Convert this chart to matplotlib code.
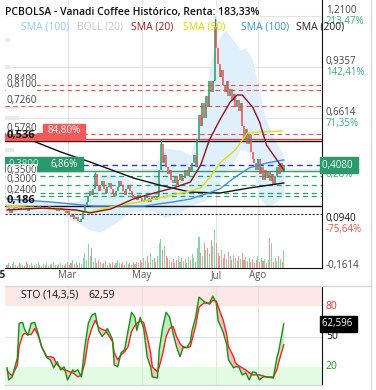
import matplotlib
matplotlib.use("Agg")
import matplotlib.pyplot as plt
import numpy as np
from matplotlib.patches import Rectangle
from matplotlib.lines import Line2D

plt.rcParams["font.family"] = ["Open Sans", "DejaVu Sans"]

W, H, DPI = 376, 390, 100

TITLE = "PCBOLSA - Vanadi Coffee Histórico, Renta: 183,33%"
GREEN = "#1f9d63"
RED = "#f44848"

# one close per trading day, early Jan .. late Aug 2025
closes = [
    0.18, 0.17, 0.15, 0.17, 0.18, 0.19, 0.18, 0.17, 0.18, 0.19,
    0.18, 0.17, 0.16, 0.18, 0.19, 0.18, 0.17, 0.18, 0.19, 0.18,
    0.17, 0.18, 0.17, 0.18, 0.19, 0.18, 0.17, 0.18, 0.17, 0.16,
    0.17, 0.18, 0.17, 0.16,
    0.15, 0.16, 0.14, 0.13, 0.14, 0.12, 0.13, 0.11, 0.10, 0.12,
    0.16, 0.19, 0.21, 0.24, 0.27, 0.25, 0.28,
    0.36, 0.30, 0.27,
    0.30, 0.32, 0.28, 0.26, 0.29, 0.31, 0.28, 0.26, 0.24, 0.27,
    0.29, 0.32, 0.30, 0.27, 0.25, 0.28, 0.30, 0.27, 0.25, 0.23,
    0.24, 0.22, 0.25, 0.23, 0.21, 0.22, 0.24, 0.23, 0.21, 0.22, 0.24, 0.23, 0.22, 0.24,
    0.38, 0.52, 0.42, 0.46, 0.40, 0.36, 0.38,
    0.33, 0.31, 0.35, 0.30, 0.33, 0.36, 0.32, 0.34, 0.38, 0.35, 0.40, 0.37, 0.42, 0.46, 0.40,
    0.55, 0.68, 0.62, 0.74, 0.66, 0.78, 0.72, 0.86, 0.80, 0.86,
    1.15, 1.04,
    0.95, 0.88, 0.92, 0.84, 0.80, 0.86, 0.78, 0.82, 0.76, 0.79,
    0.72, 0.76, 0.70, 0.74, 0.62, 0.55, 0.60, 0.52, 0.57,
    0.48, 0.44, 0.42, 0.38, 0.44, 0.36, 0.40, 0.33, 0.38, 0.34,
    0.37, 0.32, 0.36, 0.30, 0.35, 0.40, 0.36, 0.42, 0.37, 0.408,
]
volumes = [
    3, 5, 2, 4, 6, 3, 2, 5, 4, 3, 2, 6, 4, 3, 5, 2, 3, 4, 6, 3,
    2, 4, 3, 5, 2, 3, 4, 6, 3, 2, 4, 5, 3, 2,
    4, 6, 3, 5, 8, 4, 6, 3, 5, 4,
    10, 15, 8, 24, 12, 20, 6, 10, 5, 8,
    6, 4, 5, 7, 3, 5, 4, 6, 3, 5,
    8, 5, 4, 6, 3, 7, 4, 5, 3, 6,
    4, 6, 5, 8, 6, 10, 7, 12, 5, 15, 8, 10, 6, 12,
    25, 29, 18, 22, 12, 10, 8,
    6, 9, 5, 8, 12, 6, 10, 7, 9, 5, 11, 8, 14, 10, 6,
    20, 31, 15, 12, 25, 18, 20, 14, 28, 22, 38, 25,
    15, 12, 18, 10, 14, 9, 16, 12, 8, 13, 10, 7, 12, 9, 15, 8, 11, 7, 10,
    6, 9, 5, 8, 12, 6, 10, 7, 9, 5, 8, 30, 25, 6, 10, 7, 12, 9, 6, 18,
]
wick_days = [51, 89, 120]
wick_highs = [0.37, 0.55, 1.21]

# moving averages (day index, value)
sma20_days = [0, 21, 40, 48, 60, 73, 87, 96, 106, 112, 117, 123, 129, 133, 136, 142, 146, 150, 156, 160]
sma20_vals = [0.167, 0.177, 0.167, 0.151, 0.172, 0.226, 0.263, 0.285, 0.317, 0.409,
              0.543, 0.651, 0.747, 0.785, 0.785, 0.72, 0.64, 0.516, 0.436, 0.382]
sma50_days = [0, 35, 48, 60, 73, 88, 106, 112, 117, 123, 132, 139, 145, 159]
sma50_vals = [0.188, 0.167, 0.156, 0.183, 0.204, 0.231, 0.269, 0.285, 0.339, 0.419,
              0.49, 0.581, 0.586, 0.591]
sma100_days = [0, 25, 50, 79, 96, 106, 115, 123, 132, 140, 150, 160]
sma100_vals = [0.226, 0.210, 0.188, 0.188, 0.210, 0.226, 0.253, 0.280, 0.344, 0.393, 0.419, 0.436]
sma200_days = [0, 15, 31, 48, 73, 88, 106, 123, 140, 160]
sma200_vals = [0.56, 0.538, 0.479, 0.425, 0.339, 0.301, 0.263, 0.258, 0.285, 0.312]
boll_days = [0, 13, 31, 42, 48, 54, 62, 71, 80, 86, 91, 100, 106, 112, 115, 118, 122, 126,
             130, 135, 138, 142, 145, 149, 153, 160]
boll_upper = [0.231, 0.220, 0.204, 0.220, 0.301, 0.355, 0.371, 0.328, 0.274, 0.409, 0.50,
              0.49, 0.462, 0.651, 0.774, 0.973, 1.081, 1.135, 1.092, 1.027, 1.038, 0.973,
              0.839, 0.677, 0.570, 0.462]
boll_lower = [0.145, 0.140, 0.145, 0.091, 0.059, 0.048, 0.091, 0.156, 0.167, 0.156, 0.124,
              0.156, 0.188, 0.210, 0.220, 0.247, 0.301, 0.371, 0.409, 0.49, 0.49, 0.436,
              0.247, 0.193, 0.193, 0.247]

# left volume-profile blocks (price level, width in days)
profile_levels = [1.081, 0.936, 0.72, 0.661, 0.49, 0.436, 0.371, 0.328, 0.285, 0.242, 0.199, 0.167]
profile_widths = [3, 3, 7, 8, 5, 6, 8, 6, 7, 6, 9, 8]

# stochastic (14,3,5)
sto_days = [0, 1, 3, 6, 7, 9, 10, 12, 14, 16, 18, 20, 23, 25, 27, 29, 31, 33, 35, 38,
            39, 41, 43, 45, 47, 49, 51, 53, 55, 57, 58, 61, 62, 64, 66, 68, 70, 72, 74, 75,
            77, 79, 81, 83, 84, 87, 88, 90, 92, 94, 96, 98, 100, 102, 104, 106, 107, 109, 111, 113,
            115, 117, 119, 121, 122, 125, 127, 128, 131, 132, 134, 136, 138, 140, 142, 144, 146, 148, 150, 154,
            156, 157, 160]
sto_k = [19, 7, 10, 29, 63, 64, 58, 51, 63, 64, 53, 40, 29, 27, 19, 25, 17, 20, 7, 17,
         15, 17, 10, 40, 63, 71, 73, 56, 50, 54, 58, 47, 22, 20, 34, 37, 56, 74, 69, 56,
         69, 58, 30, 20, 10, 9, 37, 59, 74, 69, 53, 40, 30, 40, 39, 45, 56, 69, 89, 86,
         83, 83, 90, 83, 66, 54, 42, 27, 19, 20, 20, 12, 14, 7, 15, 14, 7, 10, 10, 9,
         29, 35, 62.6]
sto_d = [17, 14, 11, 22, 40, 51, 53, 52, 52, 58, 51, 40, 30, 30, 29, 22, 19, 17, 16, 14,
         13, 10, 12, 24, 47, 58, 66, 59, 57, 56, 53, 45, 34, 27, 32, 35, 40, 55, 61, 63,
         65, 64, 50, 34, 20, 15, 20, 33, 50, 58, 60, 50, 43, 39, 39, 40, 47, 60, 79, 82,
         84, 82, 86, 85, 80, 66, 52, 40, 30, 24, 21, 19, 17, 14, 12, 12, 12, 11, 10, 10,
         17, 24, 42]

month_days = [35, 78, 121, 145]
month_names = ["Mar", "May", "Jul", "Ago"]

# right scale; the 0,3871 tick sits under the last-price box, only its % shows
price_ticks = [1.21, 0.9357, 0.6614, 0.3871, 0.094, -0.1614]
price_labels = ["1,2100", "0,9357", "0,6614", "", "0,0940", "-0,1614"]
pct_labels = ["213,47%", "142,41%", "71,35%", "0,28%", "-75,64%", ""]
last_price = 0.408

red_levels = [0.84, 0.81, 0.726, 0.578]
red_names = ["0,8400", "0,8100", "0,7260", "0,5780"]
green_levels = [0.35, 0.30, 0.26, 0.24]
green_names = ["0,3500", "0,3000", "", "0,2400"]


def fx(px):
    return px / W


def fy(py):
    return 1 - py / H


def draw_price(ax):
    days = np.arange(len(closes))
    c = np.array(closes)
    o = np.r_[c[0], c[:-1]]
    up = c >= o

    ax.fill_between(boll_days, boll_lower, boll_upper, color="#dff0fc", lw=0, zorder=1)
    ax.barh(profile_levels, profile_widths, height=0.025, left=-1.16,
            color="#e9e9e9", zorder=1)

    for p in [1.21, 0.9357, 0.6614, 0.3871]:
        ax.axhline(p, color="#e4e4e4", lw=0.8, zorder=0)
    for d in month_days:
        ax.axvline(d, color="#e4e4e4", lw=0.8, zorder=0)

    for p in red_levels:
        ax.axhline(p, color="#ff4d4d", lw=0.8, ls=(0, (4, 3)), zorder=2)
    for p in green_levels:
        ax.axhline(p, color="#2e9e6e", lw=0.9, ls=(0, (4, 3)), zorder=2)
    ax.axhline(0.548, color="#e53935", lw=0.9, zorder=2)
    ax.axhline(0.536, color="#111111", lw=1.0, zorder=2)
    ax.axhline(0.378, color="#2e9e6e", lw=1.0, zorder=2)
    ax.axhline(0.186, color="#111111", lw=1.0, zorder=2)
    ax.axhline(last_price, color="#1f3fd0", lw=1.0, ls=(0, (4, 3)), zorder=2)
    ax.axhline(0.145, color="#333333", lw=0.8, ls=(0, (2, 1.5)), zorder=2)

    ax.vlines(days[up], o[up], c[up], color=GREEN, lw=1.1, zorder=3)
    ax.vlines(days[~up], o[~up], c[~up], color=RED, lw=1.1, zorder=3)
    ax.vlines(wick_days, c[wick_days], wick_highs, color=GREEN, lw=1.0, zorder=3)

    ax.plot(sma200_days, sma200_vals, color="#111111", lw=1.0, zorder=4)
    ax.plot(sma100_days, sma100_vals, color="#3d8fe0", lw=1.0, zorder=4)
    ax.plot(sma50_days, sma50_vals, color="#dede10", lw=1.0, zorder=4)
    ax.plot(sma20_days, sma20_vals, color="#8b1520", lw=1.0, zorder=4)

    ax.set_xlim(-1.16, 182.1)
    ax.set_ylim(-0.1452, 1.296)
    ax.set_xticks([])
    ax.set_yticks([])
    for s in ["top", "left"]:
        ax.spines[s].set_visible(False)
    ax.spines["right"].set_color("#111111")
    ax.spines["bottom"].set_color("#111111")

    vax = ax.twinx()
    vax.bar(days[up], np.array(volumes)[up], width=0.6, color="#7fd8a6", zorder=2)
    vax.bar(days[~up], np.array(volumes)[~up], width=0.6, color="#f59090", zorder=2)
    vax.set_ylim(0, 268)
    vax.set_yticks([])
    vax.axis("off")

    # right-hand price scale
    ytr = ax.get_yaxis_transform()
    for p, lab, pct in zip(price_ticks, price_labels, pct_labels):
        col = "#111111" if lab == "0,0940" else "#444444"
        if lab:
            ax.text(1.012, p, lab, transform=ytr, va="bottom", ha="left",
                    fontsize=7, color=col, clip_on=False)
        if pct:
            pcol = "#f05050" if pct.startswith("-") else "#3aaa78"
            ax.text(1.012, p, pct, transform=ytr, va="top", ha="left",
                    fontsize=7, color=pcol, clip_on=False)
    ax.text(1.0, last_price, "0,4080 ", transform=ytr, va="center", ha="left",
            fontsize=7, color="white", clip_on=False, zorder=8,
            bbox=dict(boxstyle="square,pad=0.25", fc="#2a9a6a", ec="#2a9a6a"))

    # left labels
    for p, lab in zip(red_levels + green_levels, red_names + green_names):
        if lab:
            ax.text(0.004, p, lab, transform=ytr, va="bottom", ha="left",
                    fontsize=7, color="#444444", zorder=6,
                    bbox=dict(boxstyle="square,pad=0.05", fc="white", ec="none"))

    ax.add_patch(Rectangle((38 / 317, 0.543), 42 / 317, 0.086, transform=ytr,
                           color="#f25a5a", zorder=5))
    ax.add_patch(Rectangle((0, 0.543), 38 / 317, 0.038, transform=ytr,
                           color="#f25a5a", zorder=5))
    ax.text(59 / 317, 0.592, "84,80%", transform=ytr, va="center", ha="center",
            fontsize=7, color="white", zorder=7)
    ax.text(0.004, 0.536, "0,536", transform=ytr, va="bottom", ha="left",
            fontsize=8, fontweight="bold", color="#111111", zorder=7)

    ax.add_patch(Rectangle((0, 0.376), 78 / 317, 0.076, transform=ytr,
                           color="#2a9a6a", zorder=5))
    ax.text(0.01, 0.414, "0,3800", transform=ytr, va="center", ha="left",
            fontsize=7, color="#cfeee0", zorder=7)
    ax.text(59 / 317, 0.414, "6,86%", transform=ytr, va="center", ha="center",
            fontsize=7, color="white", zorder=7)
    ax.text(0.004, 0.186, "0,186", transform=ytr, va="bottom", ha="left",
            fontsize=8, fontweight="bold", color="#111111", zorder=7)

    # month labels under the price panel; the year label runs off the left edge
    for d, name in zip(month_days, month_names):
        ax.text(d, -0.158, name, ha="center", va="top", fontsize=7,
                color="#555555", clip_on=False)
    ax.text(-7.0, -0.158, "2025", ha="center", va="top", fontsize=7,
            fontweight="bold", color="#222222", clip_on=False)


def draw_sto(ax):
    ax.axhspan(80, 100, color="#fde7e7", lw=0, zorder=0)
    ax.axhspan(0, 20, color="#e2fbe2", lw=0, zorder=0)
    ax.axhline(50, color="#e4e4e4", lw=0.8, zorder=0)
    for d in month_days:
        ax.axvline(d, color="#e4e4e4", lw=0.8, zorder=0)

    k = np.array(sto_k, dtype=float)
    d = np.array(sto_d, dtype=float)
    ax.fill_between(sto_days, k, d, where=k >= d, interpolate=True,
                    color="#bdeebd", lw=0, zorder=1)
    ax.fill_between(sto_days, k, d, where=k < d, interpolate=True,
                    color="#f6c4b8", lw=0, zorder=1)
    ax.plot(sto_days, sto_d, color="#ff1f1f", lw=1.0, zorder=2)
    ax.plot(sto_days, sto_k, color="#1a8c1a", lw=1.0, zorder=3)

    ax.set_xlim(-1.16, 182.1)
    ax.set_ylim(2, 100)
    ax.set_xticks([])
    ax.set_yticks([])
    for s in ["top", "left"]:
        ax.spines[s].set_visible(False)
    ax.spines["right"].set_color("#111111")
    ax.spines["bottom"].set_color("#d0d0d0")

    ytr = ax.get_yaxis_transform()
    for v, col in [(80, "#f03030"), (50, "#111111"), (20, "#1a9a1a")]:
        ax.text(1.012, v, str(v), transform=ytr, va="center", ha="left",
                fontsize=7.5, color=col, clip_on=False)
    ax.text(1.0, sto_k[-1], "62,596 ", transform=ytr, va="center", ha="left",
            fontsize=7, color="white", clip_on=False,
            bbox=dict(boxstyle="square,pad=0.25", fc="black", ec="black"))
    ax.text(16 / 317, 91, "STO (14,3,5)", transform=ytr, va="center", ha="left",
            fontsize=7.5, color="#111111")
    ax.text(83 / 317, 91, "62,59", transform=ytr, va="center", ha="left",
            fontsize=7.5, color="#111111")


def main():
    fig = plt.figure(figsize=(W / DPI, H / DPI), dpi=DPI)
    ax = fig.add_axes([fx(5), fy(268), 317 / W, 268 / H])
    sto = fig.add_axes([fx(5), fy(385), 317 / W, 99 / H])

    draw_price(ax)
    draw_sto(sto)

    fig.add_artist(Line2D([fx(371), fx(371)], [0, 1], color="#d8d8d8", lw=1))
    fig.add_artist(Line2D([fx(5), fx(371)], [fy(286), fy(286)], color="#d8d8d8", lw=1))

    fig.text(fx(5), fy(12), TITLE, ha="left", va="center", fontsize=7.5,
             fontweight="semibold", color="#111111",
             bbox=dict(boxstyle="square,pad=0.1", fc="white", ec="none", alpha=0.6))
    legend = [(21, "SMA (100)", "#8ecdf5"), (77, "BOLL (20)", "#c8c8c8"),
              (131, "SMA (20)", "#9b1b1b"), (183, "SMA (50)", "#d8d800"),
              (241, "SMA (100)", "#3d8fe0"), (296, "SMA (200)", "#222222")]
    for x, lab, col in legend:
        fig.text(fx(x), fy(27), lab, ha="left", va="center", fontsize=7.5, color=col)

    fig.savefig("out.png", dpi=DPI)


if __name__ == "__main__":
    main()
